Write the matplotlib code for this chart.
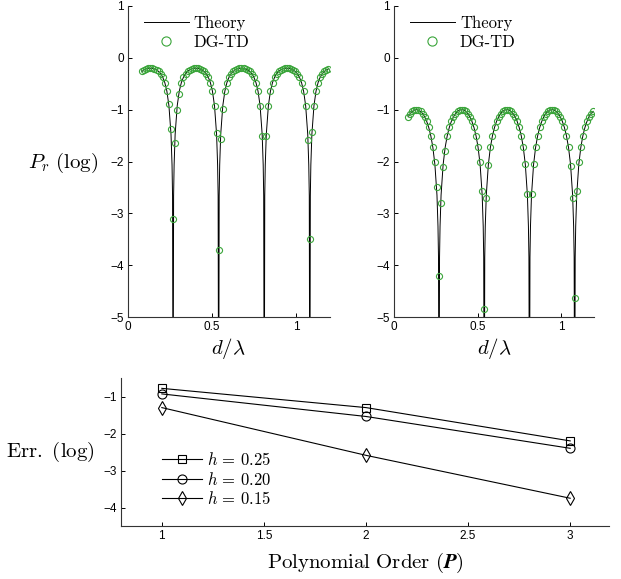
import numpy as np
import matplotlib
matplotlib.use("Agg")
import matplotlib.pyplot as plt

plt.rcParams['font.family'] = ['Liberation Sans', 'DejaVu Sans']
plt.rcParams['mathtext.fontset'] = 'cm'

nan = np.nan

# d/lambda sample points of the DG-TD runs
dgtd_x = [0.0833, 0.0957, 0.1080, 0.1203, 0.1327, 0.1450, 0.1573, 0.1697, 0.1820, 0.1943,
          0.2066, 0.2190, 0.2313, 0.2436, 0.2560, 0.2683, 0.2806, 0.2930, 0.3053, 0.3176,
          0.3300, 0.3423, 0.3546, 0.3670, 0.3793, 0.3916, 0.4040, 0.4163, 0.4286, 0.4409,
          0.4533, 0.4656, 0.4779, 0.4903, 0.5026, 0.5149, 0.5273, 0.5396, 0.5519, 0.5643,
          0.5766, 0.5889, 0.6013, 0.6136, 0.6259, 0.6383, 0.6506, 0.6629, 0.6753, 0.6876,
          0.6999, 0.7122, 0.7246, 0.7369, 0.7492, 0.7616, 0.7739, 0.7862, 0.7986, 0.8109,
          0.8232, 0.8356, 0.8479, 0.8602, 0.8726, 0.8849, 0.8972, 0.9096, 0.9219, 0.9342,
          0.9465, 0.9589, 0.9712, 0.9835, 0.9959, 1.0082, 1.0205, 1.0329, 1.0452, 1.0575,
          1.0699, 1.0822, 1.0945, 1.1069, 1.1192, 1.1315, 1.1439, 1.1562, 1.1685, 1.1809,
          1.1932]

dgtd_left = [-0.262, -0.232, -0.214, -0.203, -0.200, -0.203, -0.214, -0.232, -0.262, -0.306,
             -0.374, -0.477, -0.642, -0.89, -1.37, -3.1, -1.64, -1.01, -0.70,
             -0.477, -0.374, -0.306, -0.262, -0.232, -0.214, -0.203, -0.200, -0.203, -0.214,
             -0.232, -0.262, -0.306, -0.374, -0.477, -0.642, -0.923,
             -1.45, -3.7, -1.56, -0.98,
             -0.642, -0.477, -0.374, -0.306, -0.262, -0.232, -0.214, -0.203, -0.200, -0.203,
             -0.214, -0.232, -0.262, -0.306, -0.374, -0.477, -0.642, -0.923,
             -1.50, nan, -1.50,
             -0.923, -0.642, -0.477, -0.374, -0.306, -0.262, -0.232, -0.214, -0.203, -0.200,
             -0.203, -0.214, -0.232, -0.262, -0.306, -0.374, -0.477, -0.642, -0.923,
             -1.58, -3.5, -1.44,
             -0.923, -0.642, -0.477, -0.374, -0.306, -0.262, -0.232, -0.214]

dgtd_right = [-1.138, -1.075, -1.033, -1.008, -1.000, -1.008, -1.033, -1.075, -1.138, -1.225,
              -1.343, -1.503, -1.726, -2.0, -2.5, -4.2, -2.8, -2.1, -1.8,
              -1.503, -1.343, -1.225, -1.138, -1.075, -1.033, -1.008, -1.000, -1.008, -1.033,
              -1.075, -1.138, -1.225, -1.343, -1.503, -1.726,
              -2.01, -2.57, -4.85, -2.70, -2.07,
              -1.726, -1.503, -1.343, -1.225, -1.138, -1.075, -1.033, -1.008, -1.000, -1.008,
              -1.033, -1.075, -1.138, -1.225, -1.343, -1.503, -1.726,
              -2.05, -2.62, nan, -2.62, -2.04,
              -1.726, -1.503, -1.343, -1.225, -1.138, -1.075, -1.033, -1.008, -1.000, -1.008,
              -1.033, -1.075, -1.138, -1.225, -1.343, -1.503, -1.726,
              -2.08, -2.71, -4.64, -2.57, -2.01,
              -1.726, -1.503, -1.343, -1.225, -1.138, -1.075, -1.033]

# theory curve (denser around the zeros)
theory_x = [0.0833, 0.0957, 0.1080, 0.1203, 0.1327, 0.1450, 0.1573, 0.1697, 0.1820, 0.1943,
            0.2066, 0.2190, 0.2313, 0.2436, 0.2560, 0.2621, 0.2652, 0.2683, 0.2714, 0.2745,
            0.2806, 0.2930, 0.3053, 0.3176, 0.3300, 0.3423, 0.3546, 0.3670, 0.3793, 0.3916,
            0.4040, 0.4163, 0.4286, 0.4409, 0.4533, 0.4656, 0.4779, 0.4903, 0.5026, 0.5149,
            0.5273, 0.5334, 0.5365, 0.5396, 0.5427, 0.5458, 0.5519, 0.5643, 0.5766, 0.5889,
            0.6013, 0.6136, 0.6259, 0.6383, 0.6506, 0.6629, 0.6753, 0.6876, 0.6999, 0.7122,
            0.7246, 0.7369, 0.7492, 0.7616, 0.7739, 0.7862, 0.7986, 0.8047, 0.8078, 0.8109,
            0.8140, 0.8171, 0.8232, 0.8356, 0.8479, 0.8602, 0.8726, 0.8849, 0.8972, 0.9096,
            0.9219, 0.9342, 0.9465, 0.9589, 0.9712, 0.9835, 0.9959, 1.0082, 1.0205, 1.0329,
            1.0452, 1.0575, 1.0699, 1.0760, 1.0791, 1.0822, 1.0853, 1.0884, 1.0945, 1.1069,
            1.1192, 1.1315, 1.1439, 1.1562, 1.1685, 1.1809, 1.1932]

theory_left = [-0.262, -0.232, -0.214, -0.203, -0.200, -0.203, -0.214, -0.232, -0.262, -0.306,
               -0.374, -0.477, -0.642, -0.923, -1.475, -2.064, -2.663, -8.0, -2.663, -2.064,
               -1.475, -0.923, -0.642, -0.477, -0.374, -0.306, -0.262, -0.232, -0.214, -0.203,
               -0.200, -0.203, -0.214, -0.232, -0.262, -0.306, -0.374, -0.477, -0.642, -0.923,
               -1.475, -2.064, -2.663, -8.0, -2.663, -2.064,
               -1.475, -0.923, -0.642, -0.477, -0.374, -0.306, -0.262, -0.232, -0.214, -0.203,
               -0.200, -0.203, -0.214, -0.232, -0.262, -0.306, -0.374, -0.477, -0.642, -0.923,
               -1.475, -2.064, -2.663, -8.0, -2.663, -2.064,
               -1.475, -0.923, -0.642, -0.477, -0.374, -0.306, -0.262, -0.232, -0.214, -0.203,
               -0.200, -0.203, -0.214, -0.232, -0.262, -0.306, -0.374, -0.477, -0.642, -0.923,
               -1.475, -2.064, -2.663, -8.0, -2.663, -2.064,
               -1.475, -0.923, -0.642, -0.477, -0.374, -0.306, -0.262, -0.232, -0.214]

theory_right = [-1.138, -1.075, -1.033, -1.008, -1.000, -1.008, -1.033, -1.075, -1.138, -1.225,
                -1.343, -1.503, -1.726, -2.059, -2.649, -3.248, -3.850, -8.0, -3.850, -3.248,
                -2.649, -2.059, -1.726, -1.503, -1.343, -1.225, -1.138, -1.075, -1.033, -1.008,
                -1.000, -1.008, -1.033, -1.075, -1.138, -1.225, -1.343, -1.503, -1.726, -2.059,
                -2.649, -3.248, -3.850, -8.0, -3.850, -3.248,
                -2.649, -2.059, -1.726, -1.503, -1.343, -1.225, -1.138, -1.075, -1.033, -1.008,
                -1.000, -1.008, -1.033, -1.075, -1.138, -1.225, -1.343, -1.503, -1.726, -2.059,
                -2.649, -3.248, -3.850, -8.0, -3.850, -3.248,
                -2.649, -2.059, -1.726, -1.503, -1.343, -1.225, -1.138, -1.075, -1.033, -1.008,
                -1.000, -1.008, -1.033, -1.075, -1.138, -1.225, -1.343, -1.503, -1.726, -2.059,
                -2.649, -3.248, -3.850, -8.0, -3.850, -3.248,
                -2.649, -2.059, -1.726, -1.503, -1.343, -1.225, -1.138, -1.075, -1.033]

# convergence plot
orders = [1, 2, 3]
err_h025 = [-0.78, -1.30, -2.20]
err_h020 = [-0.93, -1.54, -2.40]
err_h015 = [-1.30, -2.59, -3.75]

green = '#3aa53a'
W, H = 621, 579
fig = plt.figure(figsize=(W / 100, H / 100), dpi=100)


def px_axes(x0, y0, x1, y1):
    return fig.add_axes([x0 / W, 1 - y1 / H, (x1 - x0) / W, (y1 - y0) / H])


def style(ax):
    for s in ['top', 'right']:
        ax.spines[s].set_visible(False)
    for s in ['left', 'bottom']:
        ax.spines[s].set_linewidth(0.8)
        ax.spines[s].set_color('#333333')
    ax.tick_params(direction='in', length=3, width=0.7, labelsize=8.5, pad=3)


ax1 = px_axes(128, 6, 329.6, 317)
ax2 = px_axes(394.3, 6, 594.3, 317)
for ax, th, dg in [(ax1, theory_left, dgtd_left), (ax2, theory_right, dgtd_right)]:
    ax.plot(theory_x, th, color='black', lw=0.7, label='Theory')
    ax.plot(dgtd_x, dg, ls='none', marker='o', ms=4.4, mfc='none', mec=green, mew=0.8,
            label='DG-TD')
    ax.set_xlim(0, 1.2)
    ax.set_ylim(-5, 1)
    ax.set_xticks([0, 0.5, 1])
    ax.set_xticklabels(['0', '0.5', '1'])
    ax.set_yticks([-5, -4, -3, -2, -1, 0, 1])
    style(ax)
    ax.set_xlabel(r'$d/\lambda$', fontsize=15, labelpad=2)
    ax.legend(loc='upper left', bbox_to_anchor=(0.045, 0.99), frameon=False, borderaxespad=0,
              handlelength=2.7, handletextpad=0.3, labelspacing=0.2, markerscale=1.5,
              prop={'family': 'cmr10', 'size': 12})

fig.text(63 / W, 1 - 163 / H, r'$P_r\ \mathrm{(log)}$', fontsize=15, ha='center', va='center')

ax3 = px_axes(121, 378, 609, 526)
ax3.plot(orders, err_h025, color='black', lw=0.8, marker='s', ms=6, mfc='none', mew=0.8,
         label=r'$h\,=\,0.25$')
ax3.plot(orders, err_h020, color='black', lw=0.8, marker='o', ms=6.5, mfc='none', mew=0.8,
         label=r'$h\,=\,0.20$')
ax3.plot(orders, err_h015, color='black', lw=0.8, marker='d', ms=7.5, mfc='none', mew=0.8,
         label=r'$h\,=\,0.15$')
ax3.set_xlim(0.8, 3.19)
ax3.set_ylim(-4.5, -0.5)
ax3.set_xticks([1, 1.5, 2, 2.5, 3])
ax3.set_xticklabels(['1', '1.5', '2', '2.5', '3'])
ax3.set_yticks([-4, -3, -2, -1])
style(ax3)
ax3.set_xlabel(r'$\mathrm{Polynomial\ Order\ (}\boldsymbol{P}\mathrm{)}$', fontsize=15,
               labelpad=6)
ax3.legend(loc='upper left', bbox_to_anchor=(0.07, 0.55), frameon=False, borderaxespad=0,
           handlelength=2.4, handletextpad=0.3, labelspacing=0.15, fontsize=12)
fig.text(50 / W, 1 - 452 / H, r'$\mathrm{Err.\ (log)}$', fontsize=15, ha='center', va='center')

fig.savefig('out.png', dpi=100)
